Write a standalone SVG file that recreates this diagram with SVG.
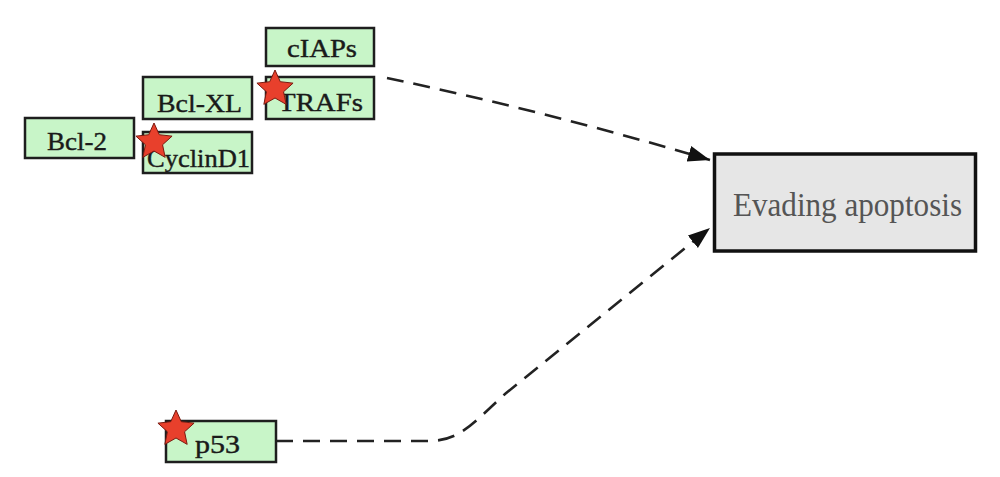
<svg xmlns="http://www.w3.org/2000/svg" width="1000" height="477" viewBox="0 0 1000 477">
  <style>
    .gene rect { fill: #c8f5c8; stroke: #1e1e1e; stroke-width: 2.5; }
    .gene text { font-family: "Liberation Serif", "Times New Roman", serif; font-size: 25px; fill: #1a1a1a; stroke: #1a1a1a; stroke-width: 0.4; }
    .star { fill: #e8402c; stroke: #7a1a10; stroke-width: 1; }
    .conn { fill: none; stroke: #222; stroke-width: 2.6; stroke-dasharray: 17 10; }
    .pheno rect { fill: #e6e6e6; stroke: #111; stroke-width: 3.5; }
    .pheno text { font-family: "Liberation Serif", "Times New Roman", serif; font-size: 33px; fill: #555; }
  </style>
  <defs>
    <polygon id="star" points="0,-19 5.29,-7.28 18.07,-5.87 8.56,2.78 11.17,15.37 0,9 -11.17,15.37 -8.56,2.78 -18.07,-5.87 -5.29,-7.28"/>
    <marker id="arrow" markerUnits="userSpaceOnUse" markerWidth="24" markerHeight="18" refX="22" refY="8" orient="auto">
      <path d="M0,0 L22,8 L0,16 Z" fill="#111"/>
    </marker>
  </defs>
  <rect width="1000" height="477" fill="#ffffff"/>

  <g id="connectors">
    <path class="conn" d="M387,78 Q545,111 710,160" marker-end="url(#arrow)"/>
    <path class="conn" d="M276,441 L428,441 C460,441 472,424 505,394 L710,228" marker-end="url(#arrow)"/>
  </g>

  <g id="node-cIAPs" class="gene">
    <rect x="266" y="28" width="108" height="38"/>
    <text x="287" y="57" textLength="70" lengthAdjust="spacingAndGlyphs">cIAPs</text>
  </g>
  <g id="node-BclXL" class="gene">
    <rect x="143" y="77" width="109" height="42"/>
    <text x="157" y="112" textLength="85" lengthAdjust="spacingAndGlyphs">Bcl-XL</text>
  </g>
  <g id="node-TRAFs" class="gene">
    <rect x="266" y="77" width="108" height="42"/>
    <text x="278" y="111" textLength="85" lengthAdjust="spacingAndGlyphs">TRAFs</text>
    <use href="#star" class="star" x="275" y="89"/>
  </g>
  <g id="node-Bcl2" class="gene">
    <rect x="25" y="118" width="109" height="40"/>
    <text x="47" y="150" textLength="60" lengthAdjust="spacingAndGlyphs">Bcl-2</text>
  </g>
  <g id="node-CyclinD1" class="gene">
    <rect x="143" y="132" width="109" height="41"/>
    <text x="147" y="167" textLength="103" lengthAdjust="spacingAndGlyphs">CyclinD1</text>
    <use href="#star" class="star" x="154" y="142"/>
  </g>
  <g id="node-p53" class="gene">
    <rect x="166" y="421" width="110" height="41"/>
    <text x="195" y="453" textLength="45" lengthAdjust="spacingAndGlyphs">p53</text>
    <use href="#star" class="star" x="176" y="429"/>
  </g>

  <g id="node-evading-apoptosis" class="pheno">
    <rect x="714.5" y="154" width="261" height="97"/>
    <text x="733" y="216" textLength="229" lengthAdjust="spacingAndGlyphs">Evading apoptosis</text>
  </g>
</svg>
